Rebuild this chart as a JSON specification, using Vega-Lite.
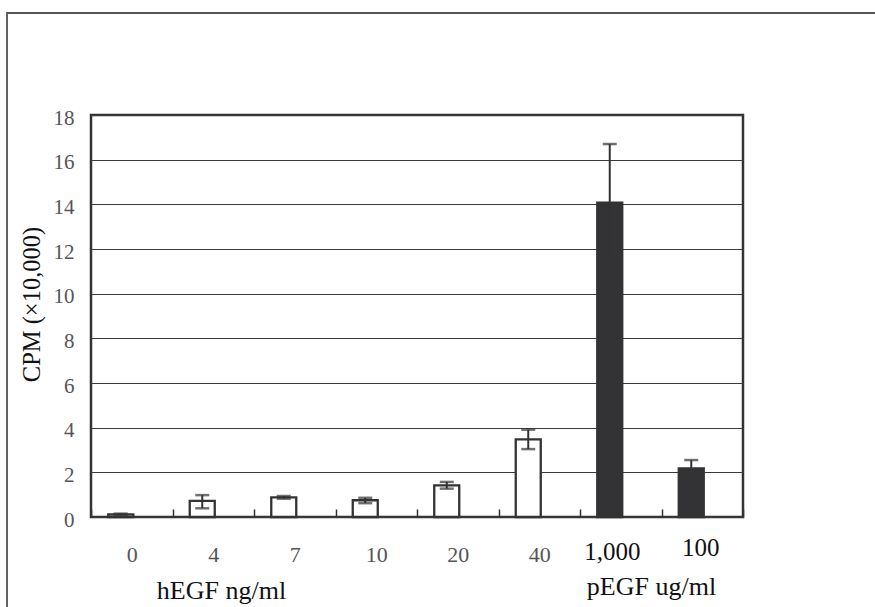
{
  "$schema": "https://vega.github.io/schema/vega-lite/v6.json",
  "width": 652,
  "height": 402,
  "autosize": {"type": "none"},
  "padding": {"left": 91, "top": 115, "right": 132, "bottom": 90},
  "background": "white",
  "config": {"view": {"stroke": "#333333", "strokeWidth": 2.5}},
  "data": {"values": [
    {"dose": "0", "group": "hEGF", "mean": 0.12, "lo": 0.09, "hi": 0.15},
    {"dose": "4", "group": "hEGF", "mean": 0.72, "lo": 0.39, "hi": 0.98},
    {"dose": "7", "group": "hEGF", "mean": 0.88, "lo": 0.82, "hi": 0.94},
    {"dose": "10", "group": "hEGF", "mean": 0.75, "lo": 0.62, "hi": 0.86},
    {"dose": "20", "group": "hEGF", "mean": 1.42, "lo": 1.27, "hi": 1.57},
    {"dose": "40", "group": "hEGF", "mean": 3.48, "lo": 3.04, "hi": 3.91},
    {"dose": "1,000", "group": "pEGF", "mean": 14.08, "lo": 11.46, "hi": 16.7},
    {"dose": "100", "group": "pEGF", "mean": 2.18, "lo": 1.81, "hi": 2.55}
  ]},
  "resolve": {"scale": {"x": "independent", "y": "independent"}, "axis": {"x": "independent", "y": "independent"}},
  "layer": [
    {
      "data": {"values": [{}]},
      "mark": {"type": "rect", "fill": null, "stroke": "#555555", "strokeWidth": 1.8, "clip": false},
      "encoding": {
        "x": {"datum": -0.1288, "type": "quantitative", "scale": {"domain": [0, 1], "nice": false, "zero": false},
          "axis": {"orient": "bottom", "title": "pEGF ug/ml", "labels": false, "ticks": false, "domain": false, "grid": false,
            "titleX": 560, "titleY": 77, "titleAlign": "center", "titleBaseline": "alphabetic",
            "titleFont": "Liberation Serif", "titleFontSize": 26, "titleFontWeight": "normal", "titleColor": "#111111"}},
        "x2": {"datum": 1.3},
        "y": {"datum": 22.567, "type": "quantitative", "scale": {"domain": [0, 18], "nice": false, "zero": false}, "axis": null},
        "y2": {"datum": -5}
      }
    },
    {
      "encoding": {
        "x": {"field": "dose", "type": "nominal", "sort": null,
          "scale": {"paddingInner": 0, "paddingOuter": 0},
          "axis": {
            "orient": "bottom",
            "title": "hEGF ng/ml", "titleX": 130, "titleY": 81, "titleAlign": "center", "titleBaseline": "alphabetic",
            "titleFont": "Liberation Serif", "titleFontSize": 26, "titleFontWeight": "normal", "titleColor": "#111111",
            "labelAngle": 0, "labelFont": "Liberation Serif", "labelBaseline": "alphabetic",
            "labelFontSize": {"condition": {"test": "datum.value === '1,000' || datum.value === '100'", "value": 25}, "value": 22},
            "labelColor": {"condition": {"test": "datum.value === '1,000' || datum.value === '100'", "value": "#111111"}, "value": "#555555"},
            "labelOffset": {"condition": [{"test": "datum.value === '1,000'", "value": -9}, {"test": "datum.value === '100'", "value": -2}], "value": 0},
            "labelPadding": {"condition": [{"test": "datum.value === '1,000'", "value": 50}, {"test": "datum.value === '100'", "value": 46}], "value": 52},
            "tickBand": "extent", "tickSize": -8, "tickColor": "#333333", "tickWidth": 1.5,
            "domain": false, "grid": false
          }}
      },
      "layer": [
        {
          "mark": {"type": "bar", "width": 25, "xOffset": -11, "stroke": "#333333", "strokeWidth": 2.3},
          "encoding": {
            "y": {"field": "mean", "type": "quantitative", "scale": {"domain": [0, 18], "nice": false},
              "axis": {
                "title": "CPM (×10,000)", "titleX": -59, "titleY": 189, "titleAngle": 270, "titleAlign": "center", "titleBaseline": "middle",
                "titleFont": "Liberation Serif", "titleFontSize": 24.5, "titleFontWeight": "normal", "titleColor": "#111111",
                "values": [0, 2, 4, 6, 8, 10, 12, 14, 16, 18],
                "labelFont": "Liberation Serif", "labelFontSize": 21, "labelColor": "#555555",
                "labelPadding": 17, "labelOffset": 3, "ticks": false, "domain": false,
                "grid": true, "gridColor": "#3a3a3a", "gridWidth": 1
              }},
            "fill": {"field": "group", "type": "nominal", "scale": {"domain": ["hEGF", "pEGF"], "range": ["#ffffff", "#333336"]}, "legend": null}
          }
        },
        {
          "mark": {"type": "rule", "xOffset": -11, "color": "#333333", "strokeWidth": 2},
          "encoding": {
            "y": {"field": "lo", "type": "quantitative"},
            "y2": {"field": "hi"}
          }
        },
        {
          "mark": {"type": "tick", "xOffset": -11, "color": "#333333", "size": 14, "thickness": 2.5, "orient": "horizontal"},
          "encoding": {
            "y": {"field": "hi", "type": "quantitative"}
          }
        },
        {
          "mark": {"type": "tick", "xOffset": -11, "color": "#333333", "size": 14, "thickness": 2.5, "orient": "horizontal"},
          "encoding": {
            "y": {"field": "lo", "type": "quantitative"}
          }
        }
      ]
    }
  ]
}
